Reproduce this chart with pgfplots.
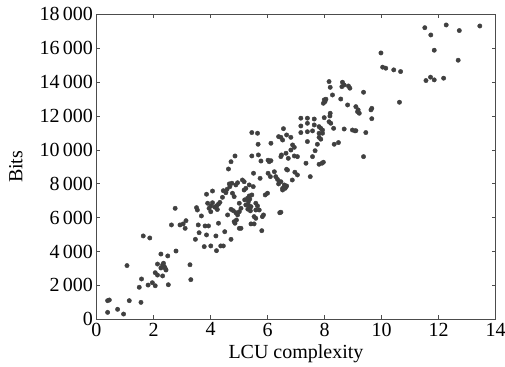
\documentclass[border=0pt]{standalone}
\usepackage{pgfplots}
\pgfplotsset{compat=1.18}
\usepackage{fontspec}
\setmainfont{Liberation Serif}
\pgfplotstableread{
x y
0.39 410
0.74 590
0.95 310
0.39 1100
0.45 1140
1.15 1100
1.56 1000
1.07 3170
1.50 1890
1.58 2380
1.81 2020
1.96 2160
2.06 1980
1.64 4920
1.87 4800
2.06 2750
2.14 2610
2.14 3260
2.26 3850
2.26 3030
2.32 3210
2.38 3110
2.41 3010
2.35 3310
2.44 2910
2.32 2560
2.50 3740
2.52 2040
2.63 5570
2.76 6550
2.79 4030
2.93 5570
3.04 5630
3.14 5820
3.11 5370
3.28 3220
3.31 2340
3.47 4720
3.51 6590
3.54 6450
3.57 5570
3.60 5110
3.68 6100
3.78 4290
3.81 5510
3.93 5510
3.86 7380
3.86 4980
4.01 4330
3.90 6850
3.95 6550
4.01 6690
4.07 6880
4.01 6350
4.07 7570
4.19 4920
4.21 4050
4.22 6700
4.28 6800
4.15 6620
4.33 6900
4.24 6480
4.28 5670
4.36 4330
4.45 4330
4.50 5170
4.42 7200
4.45 7590
4.54 7470
4.58 7670
4.63 8870
4.72 9300
4.60 6160
4.66 7990
4.75 8030
4.68 7830
4.72 4720
4.77 7440
4.83 7240
4.72 6490
4.80 6410
4.89 6290
4.89 7930
4.95 8060
4.83 5760
4.91 5860
4.86 5670
4.95 6160
5.01 5370
5.07 5370
5.01 6850
5.07 6550
5.01 6350
5.12 8220
5.18 8120
5.18 7630
5.24 7730
5.20 7050
5.30 7150
5.33 6950
5.38 7100
5.24 6750
5.33 6750
5.38 6550
5.31 6500
5.40 6400
5.42 6650
5.36 7280
5.45 7340
5.36 7930
5.50 7830
5.42 5630
5.53 5630
5.51 8620
5.53 6060
5.59 5960
5.59 6850
5.65 6690
5.71 6450
5.59 6450
5.74 8320
5.80 5230
5.77 9340
5.82 6060
5.86 6160
5.92 7340
6.00 7440
6.02 8620
6.06 9300
6.12 9360
6.24 8710
6.29 8420
6.35 8260
6.41 8120
6.39 7990
6.43 6290
6.53 7730
6.59 7790
6.67 7870
6.70 8810
4.86 9640
5.45 11020
5.65 10980
5.67 10330
5.45 9640
5.68 9700
6.02 9390
6.12 10390
6.56 11250
6.39 10780
6.47 10740
6.53 10580
6.67 10880
6.49 9700
6.47 9600
6.73 9500
6.65 9800
6.94 9640
7.05 9600
7.58 9600
7.35 9210
7.81 9150
7.91 9210
7.96 9270
6.67 8850
6.96 8680
7.50 8420
6.47 8120
6.59 7930
6.65 7830
6.53 7630
6.62 7730
6.47 6320
6.88 10290
6.94 10150
6.82 9990
6.82 10740
7.17 11870
7.40 11870
7.64 11820
7.17 11410
7.40 11570
7.64 11470
7.81 11370
7.87 11270
7.93 11170
8.16 11660
8.22 11570
8.32 11270
8.69 11230
8.98 11170
9.07 11120
9.45 11020
7.17 11020
7.40 11070
7.58 11120
7.81 10980
7.93 10980
7.81 10740
7.87 10630
7.40 10490
7.75 10330
8.34 10330
8.49 10430
7.67 9950
7.99 11900
8.20 12160
8.19 12000
7.99 12950
8.02 12850
8.05 12990
7.96 12750
8.28 13240
8.57 13000
8.81 12650
9.10 12550
9.18 12360
9.22 12160
9.16 12250
8.16 14030
8.20 13690
8.63 13990
8.69 13830
8.61 13730
8.84 13770
8.89 13640
9.37 13400
9.37 9600
9.63 12360
9.66 12450
9.66 11840
9.10 11130
9.98 15720
10.04 14880
10.15 14820
10.43 14720
10.67 14620
10.63 12810
11.52 17210
12.27 17370
13.45 17310
12.73 17040
11.73 16780
11.85 15880
12.69 15290
11.56 14090
11.72 14290
11.85 14130
12.18 14230
7.05 8520
6.87 8220
6.10 8420
}\pts
\begin{document}
\begin{tikzpicture}
\path[use as bounding box] (-96.5bp,-47.7bp) rectangle (408.5bp,319.3bp);
\begin{axis}[
  at={(0,0)}, anchor=south west,
  scale only axis,
  width=399bp, height=305bp,
  xmin=0, xmax=14, ymin=0, ymax=18000,
  xtick={0,2,...,14},
  xticklabels={0,2,4,6,8,10,12,14},
  ytick={0,2000,...,18000},
  yticklabels={0,2\,000,4\,000,6\,000,8\,000,10\,000,12\,000,14\,000,16\,000,18\,000},
  scaled y ticks=false,
  scaled x ticks=false,
  tick align=inside,
  major tick length=4bp,
  axis line style={black!70, line width=0.8bp},
  tick style={black!70, line width=0.7bp},
  ticklabel style={font=\rmfamily\fontsize{20bp}{24bp}\selectfont},
  xlabel={LCU complexity},
  ylabel={Bits},
  label style={font=\rmfamily\fontsize{20bp}{24bp}\selectfont},
  xlabel style={at={(axis description cs:0.5,-0.127)}, anchor=base},
  ylabel style={at={(axis description cs:-0.202,0.5)}, anchor=center},
]
\addplot[only marks, mark=*, mark size=2.2bp, color=black!75] table[x=x,y=y] {\pts};
\end{axis}
\end{tikzpicture}
\end{document}
